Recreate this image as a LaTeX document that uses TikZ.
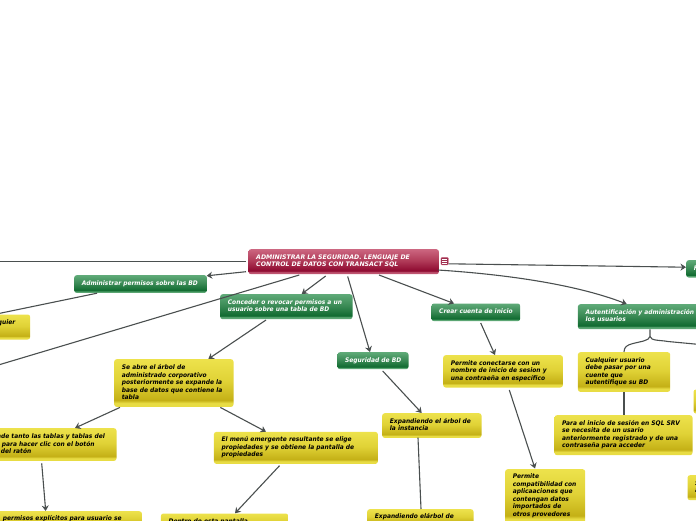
\documentclass[tikz,border=0pt]{standalone}
\usepackage{fontspec}
\setmainfont{DejaVu Sans}
\newfontfamily\bo[FakeStretch=0.94]{DejaVu Sans Bold Oblique}
\newfontfamily\boroot{DejaVu Sans Bold Oblique}
\usetikzlibrary{arrows.meta}
\definecolor{g0}{HTML}{5FAA78}\definecolor{g1}{HTML}{3A8A55}\definecolor{g2}{HTML}{106B30}\definecolor{g3}{HTML}{5BA673}
\definecolor{y0}{HTML}{EDE24C}\definecolor{y1}{HTML}{E0D236}\definecolor{y2}{HTML}{C4B016}\definecolor{y3}{HTML}{E8DC44}
\definecolor{r0}{HTML}{CC6680}\definecolor{r1}{HTML}{B03A58}\definecolor{r2}{HTML}{8E0A30}\definecolor{r3}{HTML}{BE5470}
\definecolor{connc}{HTML}{4A4F4F}
\pgfdeclareverticalshading{gbox}{100bp}{color(0bp)=(g3);color(29bp)=(g3);color(32bp)=(g2);color(52bp)=(g1);color(75bp)=(g0);color(100bp)=(g0)}
\pgfdeclareverticalshading{ybox}{100bp}{color(0bp)=(y3);color(29bp)=(y3);color(32bp)=(y2);color(52bp)=(y1);color(75bp)=(y0);color(100bp)=(y0)}
\pgfdeclareverticalshading{rbox}{100bp}{color(0bp)=(r3);color(29bp)=(r3);color(32bp)=(r2);color(52bp)=(r1);color(75bp)=(r0);color(100bp)=(r0)}
\tikzset{
 box/.style={rectangle,rounded corners=2.5pt,anchor=north west,inner xsep=7.7pt,inner ysep=0pt,align=left,
   font=\fontsize{6.3}{7.5}\selectfont\bo},
 yel/.style={box,shading=ybox,text=black},
 grn/.style={box,shading=gbox,text=white},
 rd/.style={box,shading=rbox,text=white,font=\fontsize{6.22}{7.5}\selectfont\boroot},
 connl/.style={draw=connc,line width=1.1pt},
 arr/.style={connl,-{Stealth[length=5.5pt,width=7pt]}},
}
% name, style, x1, y1, x2, y2, text
\newcommand{\bx}[7]{%
 \pgfmathsetmacro{\bw}{#5-#3}\pgfmathsetmacro{\bh}{#6-#4}\pgfmathsetmacro{\tw}{#5-#3-15.4}%
 \node[#2,text width=\tw pt,minimum width=\bw pt,minimum height=\bh pt] (#1) at (#3,#4)
   {\hbox to \tw pt{\begin{tabular}{@{}l@{}}#7\end{tabular}\hss}};}
% point given as an offset from the top left corner of a node
\newcommand{\nw}[3]{([xshift=#2pt,yshift=-#3pt]#1.north west)}
\begin{document}
\begin{tikzpicture}[x=1pt,y=-1pt]
\useasboundingbox (0,0) rectangle (696,520);
\clip (0,0) rectangle (696,520);
\coordinate (ll) at (-5,261.6);
\coordinate (lm) at (-5,314.3);
\coordinate (lb) at (-5,366);
\coordinate (rb) at (701,344.6);
\bx{root}{rd}{248.3}{249}{438.7}{274}{ADMINISTRAR LA SEGURIDAD. LENGUAJE DE\\CONTROL DE DATOS CON TRANSACT SQL}
\node[rectangle,rounded corners=1pt,fill=r2!85!white,draw=r0,line width=.4pt,minimum width=7.5pt,minimum height=7.5pt,inner sep=0pt] (icon) at (444.7,261.2) {};
\foreach \yy in {-2,0,2}\draw[white,line width=.7pt] ([xshift=-2.4pt,yshift=\yy pt]icon.center) -- ([xshift=2.4pt,yshift=\yy pt]icon.center);
\bx{adm}{grn}{74}{275}{206.7}{292.7}{Administrar permisos sobre las BD}
\bx{lefty}{yel}{-40}{314.3}{30}{339.3}{\hspace*{30pt}quier\\[9pt]}
\bx{con}{grn}{220}{294}{352.3}{319}{Conceder o revocar permisos a un\\usuario sobre una tabla de BD}
\bx{seg}{grn}{337.3}{352}{408.3}{369}{Seguridad de BD}
\bx{cre}{grn}{431.3}{303.3}{520}{321}{Crear cuenta de inicio}
\bx{aut}{grn}{577.7}{304}{760}{329}{Autentificación y administración\\los usuarios}
\bx{fbox}{grn}{686}{260}{760}{277.3}{F}
\bx{seab}{yel}{114}{359}{233.3}{406.7}{Se abre el árbol de\\administrado corporativo\\posteriormente se expande la\\base de datos que contiene la\\tabla}
\bx{tan}{yel}{-30}{428}{116.3}{460.7}{\hspace*{19pt}nde tanto las tablas y tablas del\\\hspace*{24pt}para hacer clic con el botón\\\hspace*{23pt}del ratón}
\bx{men}{yel}{213.7}{431.7}{377.7}{463.7}{El menú emergente resultante se elige\\propiedades y se obtiene la pantalla de\\propiedades}
\bx{lbt}{yel}{-30}{511}{141.7}{527}{\hspace*{25pt}permisos explícitos para usuario se}
\bx{cbt}{yel}{160.7}{513.3}{288}{530}{Dentro de esta pantalla}
\bx{pcon}{yel}{443}{355}{562.7}{387.3}{Permite conectarse con un\\nombre de inicio de sesion y\\una contraeña en específico}
\bx{cua}{yel}{577.7}{352}{670}{391.7}{Cualquier usuario\\debe pasar por una\\cuente que\\autentifique su BD}
\bx{para}{yel}{554.3}{415}{692.3}{455}{Para el inicio de sesión en SQL SRV\\se necesita de un usario\\anteriormente registrado y de una\\contraseña para acceder}
\bx{rp}{yel}{693.3}{389.3}{760}{413.3}{}
\bx{rq}{yel}{687.3}{475}{760}{500}{S\\a}
\bx{exp}{yel}{382}{413}{481.3}{437.7}{Expandiendo el árbol de\\la instancia}
\bx{expb}{yel}{367}{509}{473.3}{525}{Expandiendo elárbol de}
\bx{pcom}{yel}{505}{469}{585}{523}{Permite\\compatibilidad con\\aplicaaciones que\\contengan datos\\importados de\\otros provedores}
% connectors
\draw[connl] \nw{root}{-2.3}{12.6} -- (ll);
\draw[arr] \nw{root}{-2.3}{22.7} -- \nw{adm}{132.7}{0.8};
\draw[connl] \nw{adm}{23}{18.2} -- (lm);
\draw[connl] \nw{root}{51}{26} -- (lb);
\draw[arr] \nw{root}{77.4}{27} -- \nw{con}{81.7}{0};
\draw[arr] \nw{root}{99.4}{27.5} -- \nw{seg}{32.7}{0};
\draw[arr] \nw{root}{130.7}{26} -- \nw{cre}{22.7}{0.2};
\draw[arr] (icon.east) ++(0,2.6) -- \nw{fbox}{0}{7.2};
\draw[arr] \nw{root}{189.5}{21} .. controls (515,275) and (580,286) .. \nw{aut}{49}{0};
\draw[arr] \nw{con}{46}{26} -- \nw{seab}{94.3}{0};
\draw[arr] \nw{seab}{6}{48.4} -- \nw{tan}{105}{0};
\draw[arr] \nw{seab}{106.3}{48.4} -- \nw{men}{52.3}{0};
\draw[arr] \nw{tan}{71.7}{35.3} -- \nw{lbt}{75.7}{0};
\draw[arr] \nw{men}{65.8}{34} -- \nw{cbt}{74.3}{0};
\draw[arr] \nw{seg}{45.4}{19} -- \nw{exp}{39.7}{0};
\draw[connl] \nw{exp}{36}{24.7} -- \nw{expb}{54}{0};
\draw[arr] \nw{cre}{49.4}{19.7} -- \nw{pcon}{52}{0};
\draw[arr] \nw{pcon}{66.3}{35} -- \nw{pcom}{30}{-0.5};
\coordinate (jn) at (650,336.5);
\draw[connl] \nw{aut}{72.3}{25.4} -- (jn) .. controls (649,341) and (640,341.5) .. (633,343.5) .. controls (627,345) and (624,347) .. \nw{cua}{46.3}{0};
\draw[connl] (jn) .. controls (651,341) and (660,340) .. (668,341.5) -- (rb);
\draw[connl] \nw{cua}{46.3}{40.3} -- \nw{para}{69.7}{0};
\end{tikzpicture}
\end{document}
